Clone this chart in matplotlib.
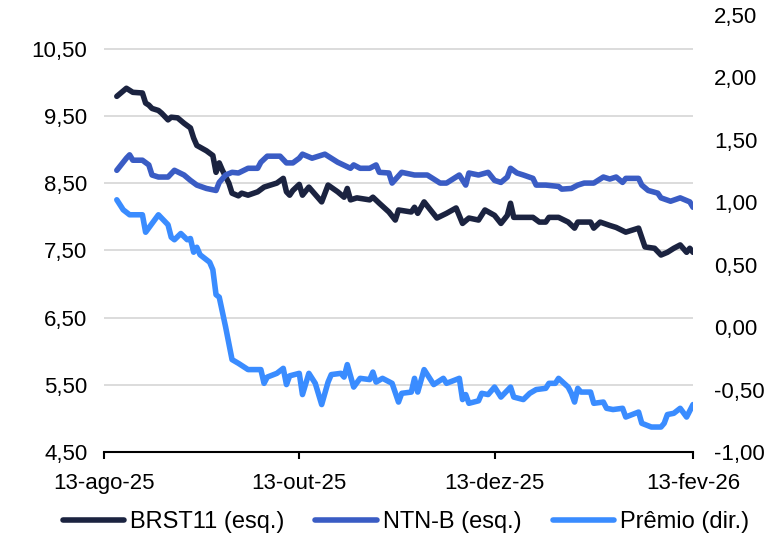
import matplotlib
matplotlib.use("Agg")
import matplotlib.pyplot as plt
import matplotlib.ticker as mticker
import pandas as pd
import numpy as np

plt.rcParams['font.family'] = ['Liberation Sans', 'DejaVu Sans']

base_date = pd.Timestamp('2025-08-13')

# BRST11 (eixo esquerdo): dias desde 13-ago-25 e valores
brst_days = [4, 7, 9, 12, 13, 14, 15, 17, 18, 20, 21, 23, 25, 27, 28, 29, 32, 34, 35, 36,
             37, 39, 40, 42, 43, 45, 48, 50, 52, 54, 56, 57, 58, 59, 61, 62, 64, 68, 70, 73,
             75, 76, 77, 79, 83, 84, 86, 89, 91, 92, 96, 97, 98, 100, 102, 104, 107, 110, 112, 114,
             117, 119, 122, 124, 126, 127, 128, 131, 134, 136, 138, 139, 142, 145, 147, 148, 152, 153, 155, 158,
             160, 163, 167, 169, 172, 174, 176, 178, 180, 182, 183, 184]
brst = [9.79, 9.91, 9.85, 9.84, 9.69, 9.66, 9.61, 9.58, 9.54, 9.44, 9.48, 9.47, 9.39, 9.32, 9.17, 9.06, 8.98, 8.91, 8.66, 8.80,
        8.69, 8.50, 8.35, 8.31, 8.35, 8.32, 8.37, 8.44, 8.47, 8.50, 8.57, 8.37, 8.32, 8.39, 8.48, 8.32, 8.44, 8.22, 8.47, 8.37,
        8.29, 8.42, 8.25, 8.28, 8.25, 8.29, 8.20, 8.07, 7.95, 8.10, 8.07, 8.14, 8.05, 8.22, 8.10, 7.98, 8.05, 8.13, 7.90, 7.98,
        7.95, 8.10, 8.02, 7.90, 8.02, 8.20, 7.99, 7.99, 7.99, 7.92, 7.92, 7.99, 7.99, 7.92, 7.83, 7.92, 7.92, 7.83, 7.92, 7.87,
        7.84, 7.77, 7.83, 7.55, 7.53, 7.43, 7.47, 7.53, 7.58, 7.47, 7.53, 7.47]

# NTN-B (eixo esquerdo)
ntnb_days = [4, 7, 8, 9, 12, 14, 15, 17, 20, 22, 25, 27, 29, 32, 35, 36, 38, 40, 42, 45,
             48, 49, 51, 55, 57, 59, 61, 62, 65, 69, 73, 77, 78, 80, 83, 85, 86, 89, 90, 93,
             97, 101, 105, 107, 110, 111, 113, 114, 117, 120, 122, 124, 126, 127, 129, 131, 134, 135, 138, 142,
             143, 146, 148, 150, 153, 156, 158, 160, 162, 163, 167, 168, 170, 173, 174, 177, 180, 183, 184]
ntnb = [8.69, 8.87, 8.92, 8.84, 8.84, 8.77, 8.62, 8.59, 8.59, 8.69, 8.62, 8.54, 8.47, 8.42, 8.39, 8.51, 8.62, 8.66, 8.65, 8.72,
        8.72, 8.81, 8.90, 8.90, 8.80, 8.80, 8.87, 8.93, 8.87, 8.93, 8.81, 8.72, 8.77, 8.72, 8.72, 8.77, 8.66, 8.65, 8.50, 8.66,
        8.62, 8.62, 8.50, 8.50, 8.59, 8.62, 8.47, 8.65, 8.62, 8.66, 8.54, 8.51, 8.59, 8.72, 8.65, 8.62, 8.57, 8.47, 8.47, 8.45,
        8.41, 8.42, 8.47, 8.50, 8.50, 8.59, 8.56, 8.59, 8.51, 8.57, 8.57, 8.47, 8.39, 8.35, 8.28, 8.23, 8.28, 8.22, 8.14]

# Prêmio (eixo direito)
premio_days = [4, 6, 8, 12, 13, 17, 20, 21, 22, 24, 26, 27, 28, 29, 30, 33, 34, 35, 36, 38,
               40, 42, 45, 49, 50, 51, 54, 56, 57, 58, 61, 62, 64, 66, 68, 70, 71, 74, 75, 76,
               78, 80, 83, 84, 85, 87, 90, 92, 93, 96, 97, 98, 100, 103, 106, 107, 111, 112, 113, 114,
               117, 118, 120, 122, 124, 127, 128, 131, 133, 135, 138, 139, 141, 142, 145, 146, 147, 148, 149, 152,
               153, 156, 157, 159, 162, 163, 167, 168, 171, 174, 175, 176, 178, 180, 182, 184]
premio = [1.02, 0.94, 0.90, 0.90, 0.76, 0.90, 0.82, 0.72, 0.70, 0.75, 0.70, 0.71, 0.60, 0.64, 0.58, 0.52, 0.46, 0.26, 0.24, 0.00,
          -0.26, -0.29, -0.34, -0.34, -0.45, -0.40, -0.37, -0.33, -0.46, -0.39, -0.37, -0.54, -0.37, -0.45, -0.62, -0.44, -0.38, -0.37, -0.40, -0.30,
          -0.48, -0.41, -0.42, -0.36, -0.44, -0.41, -0.45, -0.60, -0.53, -0.52, -0.41, -0.52, -0.34, -0.46, -0.41, -0.45, -0.41, -0.58, -0.54, -0.61,
          -0.59, -0.53, -0.54, -0.48, -0.56, -0.48, -0.56, -0.58, -0.53, -0.50, -0.49, -0.45, -0.45, -0.41, -0.48, -0.53, -0.60, -0.49, -0.52, -0.52,
          -0.61, -0.60, -0.65, -0.66, -0.65, -0.72, -0.68, -0.77, -0.80, -0.80, -0.77, -0.70, -0.69, -0.65, -0.72, -0.62]

x_tick_dates = ['2025-08-13', '2025-10-13', '2025-12-13', '2026-02-13']
x_tick_labels = ['13-ago-25', '13-out-25', '13-dez-25', '13-fev-26']
left_ticks = [4.5, 5.5, 6.5, 7.5, 8.5, 9.5, 10.5]
right_ticks = [-1.0, -0.5, 0.0, 0.5, 1.0, 1.5, 2.0, 2.5]

c_brst = '#1b2340'
c_ntnb = '#3a5cc4'
c_premio = '#3a8cff'


def to_dates(days):
    return base_date + pd.to_timedelta(days, unit='D')


def br_fmt(v, _pos):
    return f"{v:.2f}".replace('.', ',')


fig = plt.figure(figsize=(7.72, 5.43), dpi=100)
ax = fig.add_axes([104 / 772, 91 / 543, 589 / 772, 437 / 543])
ax2 = ax.twinx()

line_kw = dict(lw=4.0, solid_joinstyle='round', solid_capstyle='round')
l1, = ax.plot(to_dates(brst_days), brst, color=c_brst, label='BRST11 (esq.)', zorder=3, **line_kw)
l2, = ax.plot(to_dates(ntnb_days), ntnb, color=c_ntnb, label='NTN-B (esq.)', zorder=3, **line_kw)
l3, = ax2.plot(to_dates(premio_days), premio, color=c_premio, label='Prêmio (dir.)', zorder=3, **line_kw)

ax.set_xlim(pd.Timestamp(x_tick_dates[0]), pd.Timestamp(x_tick_dates[-1]))
ax.set_ylim(4.5, 11.0)
ax2.set_ylim(-1.0, 2.5)

ax.set_yticks(left_ticks)
ax2.set_yticks(right_ticks)
ax.yaxis.set_major_formatter(mticker.FuncFormatter(br_fmt))
ax2.yaxis.set_major_formatter(mticker.FuncFormatter(br_fmt))

ax.set_xticks(pd.to_datetime(x_tick_dates))
ax.set_xticklabels(x_tick_labels)

ax.yaxis.grid(True, color='#d9d9d9', lw=1.3, zorder=0)
ax.set_axisbelow(True)

for a in (ax, ax2):
    for s in ('top', 'left', 'right'):
        a.spines[s].set_visible(False)
ax2.spines['bottom'].set_visible(False)
ax.spines['bottom'].set_color('black')
ax.spines['bottom'].set_linewidth(1.5)

ax.tick_params(axis='y', length=0, pad=12, labelsize=16, colors='black')
ax2.tick_params(axis='y', length=0, pad=15, labelsize=16, colors='black')
ax.tick_params(axis='x', length=5, width=1.5, color='black', pad=10, labelsize=16)

fig.legend(handles=[l1, l2, l3], loc='center', bbox_to_anchor=(406 / 772, 1 - 522 / 543),
           ncol=3, frameon=False, fontsize=17, handlelength=2.6, handletextpad=0.27,
           columnspacing=1.3, borderaxespad=0, borderpad=0)

fig.savefig('out.png', dpi=100)
